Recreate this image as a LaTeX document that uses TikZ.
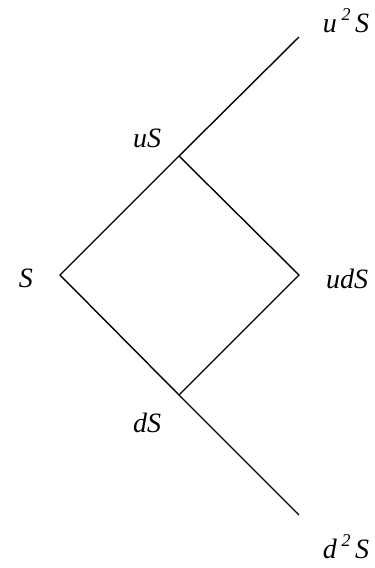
\documentclass[tikz,border=0pt]{standalone}
\usepackage{fontspec}
\setmainfont{Liberation Serif}
\newcommand{\sqr}{\raisebox{0.42em}{\fontsize{18}{18}\selectfont 2}}
\begin{document}
\begin{tikzpicture}[x=1pt,y=-1pt,
  lbl/.style={font=\fontsize{28}{28}\selectfont\itshape, inner sep=0pt, anchor=base},
  branch/.style={line width=1.4pt}]
\useasboundingbox (0,0) rectangle (375,568);
\coordinate (p0) at (60,275);
\coordinate (pu) at (179,156);
\coordinate (puu) at (299,37);
\coordinate (pud) at (299,275);
\coordinate (pd) at (179,395);
\coordinate (pdd) at (299,515);
\draw[branch] (puu) -- (pu) -- (p0) -- (pd) -- (pdd);
\draw[branch] (pu) -- (pud) -- (pd);
\node[lbl] (lS) at (26,287) {S};
\node[lbl] (luS) at (147,147) {uS};
\node[lbl] (luuS) at (346,32) {u\,\sqr\,S};
\node[lbl] (ludS) at (347,288) {udS};
\node[lbl] (ldS) at (147,432) {dS};
\node[lbl] (lddS) at (346,558) {d\,\sqr\,S};
\end{tikzpicture}
\end{document}
